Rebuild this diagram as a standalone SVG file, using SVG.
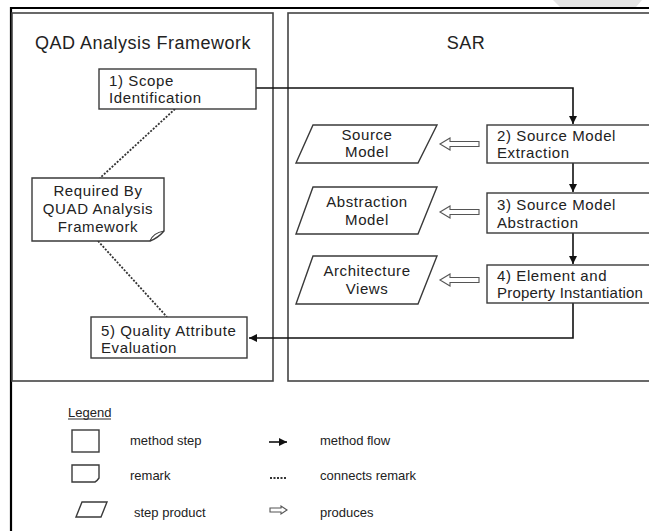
<svg xmlns="http://www.w3.org/2000/svg" width="649" height="531" viewBox="0 0 649 531">
<defs>
<style>
text{font-family:"Liberation Sans",Arial,sans-serif;fill:#222}
.t{font-size:15px;letter-spacing:0.6px}
.title{font-size:18px;letter-spacing:0.5px}
.lg{font-size:13px}
.box{fill:#fff;stroke:#3a3a3a;stroke-width:1.4}
.panel{fill:#fff;stroke:#444;stroke-width:1.6}
.flow{fill:none;stroke:#111;stroke-width:1.6}
.dash{fill:none;stroke:#333;stroke-width:1.8;stroke-dasharray:2 1.5}
.prod{fill:#fff;stroke:#555;stroke-width:1.1}
</style>
<marker id="ah" markerWidth="10" markerHeight="10" refX="8" refY="4" orient="auto" markerUnits="userSpaceOnUse">
<path d="M0,0 L8,4 L0,8 Z" fill="#111"/>
</marker>
</defs>
<rect width="649" height="531" fill="#fff"/>
<polygon points="553,0 642,0 636,7 560,7" fill="#e4e4e4"/>
<g id="frame">
<line x1="11" y1="8" x2="649" y2="8" stroke="#000" stroke-width="2.2"/>
<line x1="11" y1="7" x2="11" y2="531" stroke="#000" stroke-width="2.2"/>
</g>
<g id="panel-qad">
<rect class="panel" x="12" y="13" width="261" height="368"/>
<text class="title" x="143" y="49" text-anchor="middle">QAD Analysis Framework</text>
</g>
<g id="panel-sar">
<rect class="panel" x="288" y="13" width="380" height="368"/>
<text class="title" x="466" y="49" text-anchor="middle">SAR</text>
</g>
<g id="connectors">
<polyline class="flow" points="256,88 573,88 573,124" marker-end="url(#ah)"/>
<line class="flow" x1="573" y1="163" x2="573" y2="192" marker-end="url(#ah)"/>
<line class="flow" x1="573" y1="233" x2="573" y2="264" marker-end="url(#ah)"/>
<polyline class="flow" points="573,303 573,338 249,338" marker-end="url(#ah)"/>
<line class="dash" x1="175" y1="109" x2="100" y2="178"/>
<line class="dash" x1="98" y1="241" x2="167" y2="317"/>
<polygon class="prod" points="440,144 450,138 450,141.5 479,141.5 479,146.5 450,146.5 450,150"/>
<polygon class="prod" points="440,212 450,206 450,209.5 479,209.5 479,214.5 450,214.5 450,218"/>
<polygon class="prod" points="440,280 450,274 450,277.5 479,277.5 479,282.5 450,282.5 450,286"/>
</g>
<g id="step1">
<rect class="box" x="99" y="69" width="157" height="40"/>
<text class="t" x="109" y="86">1) Scope</text>
<text class="t" x="109" y="103">Identification</text>
</g>
<g id="remark">
<path class="box" d="M32,178 H164 V231 Q158,238 150,241 H32 Z"/>
<path d="M150,241 Q153,233 164,231" fill="none" stroke="#3a3a3a" stroke-width="1.2"/>
<text class="t" x="98" y="196" text-anchor="middle">Required By</text>
<text class="t" x="98" y="214" text-anchor="middle">QUAD Analysis</text>
<text class="t" x="98" y="232" text-anchor="middle">Framework</text>
</g>
<g id="step5">
<rect class="box" x="91" y="317" width="156" height="41"/>
<text class="t" x="101" y="336">5) Quality Attribute</text>
<text class="t" x="101" y="353">Evaluation</text>
</g>
<g id="step2">
<rect class="box" x="487" y="125" width="180" height="38"/>
<text class="t" x="497" y="141">2) Source Model</text>
<text class="t" x="497" y="158">Extraction</text>
</g>
<g id="step3">
<rect class="box" x="487" y="193" width="180" height="40"/>
<text class="t" x="497" y="210">3) Source Model</text>
<text class="t" x="497" y="228">Abstraction</text>
</g>
<g id="step4">
<rect class="box" x="487" y="265" width="180" height="38"/>
<text class="t" x="497" y="281">4) Element and</text>
<text class="t" x="497" y="298" style="letter-spacing:0.2px">Property Instantiation</text>
</g>
<g id="source-model">
<polygon class="box" points="313,125 437,125 418,163 296,163"/>
<text class="t" x="367" y="140" text-anchor="middle">Source</text>
<text class="t" x="367" y="157" text-anchor="middle">Model</text>
</g>
<g id="abstraction-model">
<polygon class="box" points="313,187 437,187 418,234 296,234"/>
<text class="t" x="367" y="207" text-anchor="middle">Abstraction</text>
<text class="t" x="367" y="225" text-anchor="middle">Model</text>
</g>
<g id="architecture-views">
<polygon class="box" points="313,256 437,256 418,304 296,304"/>
<text class="t" x="367" y="276" text-anchor="middle">Architecture</text>
<text class="t" x="367" y="294" text-anchor="middle">Views</text>
</g>
<g id="legend">
<text class="lg" x="68" y="417">Legend</text>
<line x1="68" y1="419" x2="111" y2="419" stroke="#2a2a2a" stroke-width="1"/>
<rect class="box" x="72" y="430" width="27" height="22"/>
<text class="lg" x="130" y="445">method step</text>
<line class="flow" x1="269" y1="442" x2="287" y2="442" marker-end="url(#ah)"/>
<text class="lg" x="320" y="445">method flow</text>
<path class="box" d="M72,465 H99 V478 Q97,481 95,482 H72 Z"/>
<text class="lg" x="130" y="480">remark</text>
<line class="dash" x1="270" y1="478" x2="287" y2="478" stroke-width="1.2" stroke-dasharray="2 2"/>
<text class="lg" x="320" y="480">connects remark</text>
<polygon class="box" points="82,502 107,502 101,517 76,517"/>
<text class="lg" x="134" y="517">step product</text>
<polygon class="prod" points="287,510 281,506 281,508 270,508 270,512 281,512 281,514"/>
<text class="lg" x="320" y="517">produces</text>
</g>
</svg>
